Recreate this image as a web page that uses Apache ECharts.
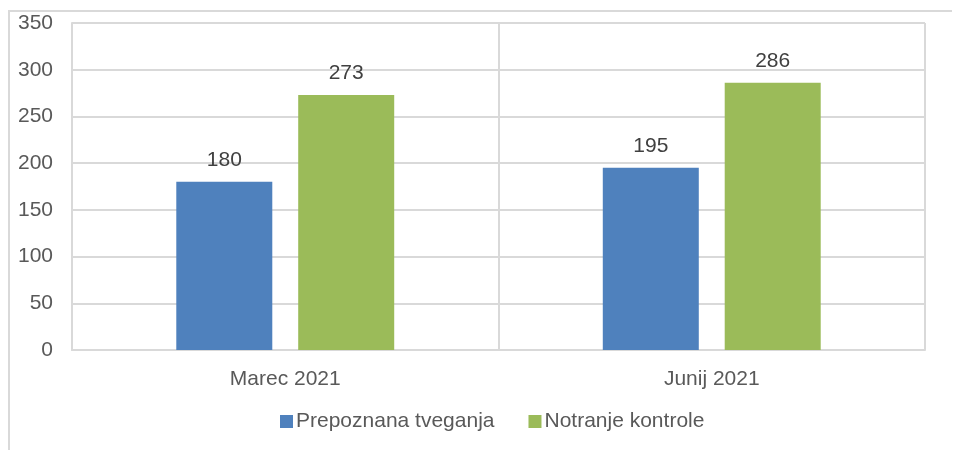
<!DOCTYPE html>
<html>

<head>
    <meta charset="utf-8">
    <title>ECharts</title>
    <script src="https://cdn.jsdelivr.net/npm/echarts@6/dist/echarts.min.js"></script>
    <style>
        body { margin: 0; background: #fff; }
    </style>
</head>

<body>
    <div id="main" style="width: 953px;height:450px;"></div>
    <script type="text/javascript">
        // podatki
        var categories = ['Marec 2021', 'Junij 2021'];
        var seriesNames = ['Prepoznana tveganja', 'Notranje kontrole'];
        var tveganja = [180, 195];
        var kontrole = [273, 286];

        var font = 'Liberation Sans, Arial, sans-serif';
        var myChart = echarts.init(document.getElementById('main'));
        var option = {
            backgroundColor: '#fff',
            textStyle: { fontFamily: font },
            // rob okrog grafa (samo levo in zgoraj je viden)
            graphic: [{
                type: 'polyline',
                shape: { points: [[9, 450], [9, 11], [952, 11]] },
                style: { stroke: '#d9d9d9', lineWidth: 2, fill: null },
                silent: true
            }],
            grid: {
                left: 72,
                right: 28,
                top: 23,
                bottom: 100
            },
            legend: {
                top: 406,
                left: 275,
                itemWidth: 13,
                itemHeight: 13,
                itemGap: 34,
                icon: 'rect',
                textStyle: { fontSize: 21, color: '#595959', fontFamily: font, padding: [0, 0, 0, -2] },
                data: seriesNames
            },
            xAxis: [{
                type: 'category',
                data: categories,
                axisTick: { show: false },
                axisLine: { lineStyle: { color: '#d9d9d9', width: 2 } },
                axisLabel: { fontSize: 21, color: '#595959', margin: 19 },
                splitLine: { show: true, lineStyle: { color: '#d9d9d9', width: 2 } }
            }],
            yAxis: [{
                type: 'value',
                min: 0,
                max: 350,
                interval: 50,
                axisLine: { show: true, lineStyle: { color: '#d9d9d9', width: 2 } },
                axisTick: { show: false },
                axisLabel: { fontSize: 21, color: '#595959', margin: 19 },
                splitLine: { lineStyle: { color: '#d9d9d9', width: 2 } }
            }],
            series: [{
                name: seriesNames[0],
                type: 'bar',
                barWidth: 96,
                barGap: '27%',
                itemStyle: { color: '#4f81bd' },
                label: { show: true, position: 'top', distance: 11, fontSize: 21, color: '#404040' },
                data: tveganja
            }, {
                name: seriesNames[1],
                type: 'bar',
                barWidth: 96,
                barGap: '27%',
                itemStyle: { color: '#9bbb59' },
                label: { show: true, position: 'top', distance: 11, fontSize: 21, color: '#404040' },
                data: kontrole
            }]
        };
        myChart.setOption(option);
    </script>
</body>

</html>
